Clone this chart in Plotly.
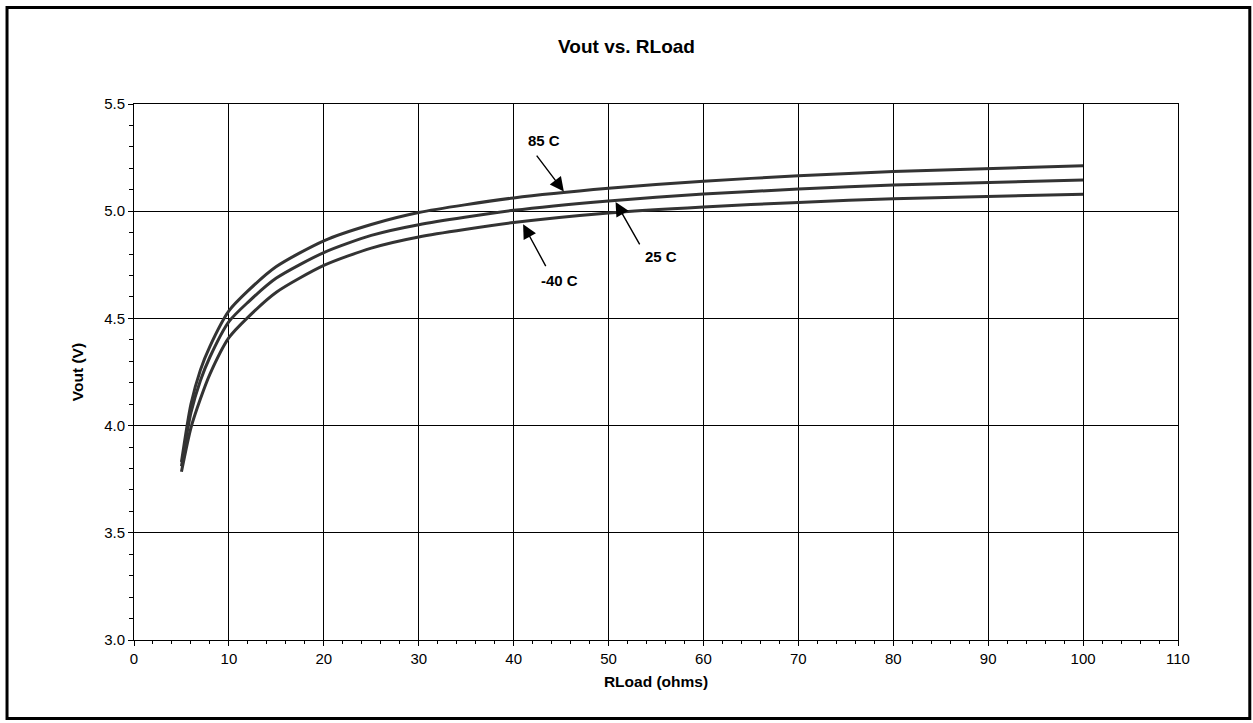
import plotly.graph_objects as go

rload = [5, 6, 7, 8, 10, 12, 15, 20, 25, 30, 40, 50, 60, 70, 80, 100]
v_85c = [3.83, 4.10, 4.26, 4.37, 4.535, 4.628, 4.742, 4.862, 4.938, 4.994, 5.062, 5.107, 5.140, 5.165, 5.185, 5.212]
v_25c = [3.81, 4.06, 4.21, 4.32, 4.485, 4.575, 4.688, 4.807, 4.887, 4.937, 5.004, 5.048, 5.080, 5.103, 5.122, 5.145]
v_m40c = [3.785, 3.99, 4.125, 4.24, 4.41, 4.505, 4.622, 4.747, 4.828, 4.880, 4.947, 4.992, 5.020, 5.041, 5.058, 5.079]
series_names = ["85 C", "25 C", "-40 C"]

FONT = "Liberation Sans, Arial, sans-serif"
LINE = "#333333"

fig = go.Figure()
for name, vals in zip(series_names, [v_85c, v_25c, v_m40c]):
    fig.add_trace(go.Scatter(x=rload, y=vals, mode="lines", name=name,
                             line=dict(color=LINE, width=3, shape="spline", smoothing=0.7),
                             showlegend=False))

axis_common = dict(showline=True, linecolor="black", linewidth=1, mirror=True,
                   showgrid=True, gridcolor="black", gridwidth=1, zeroline=False,
                   ticks="outside", ticklen=5, tickcolor="black",
                   tickfont=dict(family=FONT, size=15, color="black"))

fig.update_xaxes(range=[0, 110], dtick=10, tick0=0,
                 minor=dict(ticks="outside", ticklen=3, dtick=2, tickcolor="black", showgrid=False),
                 title=dict(text="<b>RLoad (ohms)</b>", font=dict(family=FONT, size=15.5, color="black"), standoff=10),
                 **axis_common)
fig.update_yaxes(range=[3.0, 5.5], dtick=0.5, tick0=3.0, tickformat=".1f",
                 minor=dict(ticks="outside", ticklen=4, dtick=0.1, tickcolor="black", showgrid=False),
                 title=dict(text="<b>Vout (V)</b>", font=dict(family=FONT, size=15.5, color="black"), standoff=16),
                 **axis_common)

# arrows (tip at x,y; tail at ax,ay in data coords)
arrows = [
    (45.29, 5.092, 42.31, 5.266),
    (50.74, 5.043, 53.37, 4.838),
    (41.0, 4.939, 43.47, 4.737),
]
for x, y, ax, ay in arrows:
    fig.add_annotation(x=x, y=y, ax=ax, ay=ay, xref="x", yref="y", axref="x", ayref="y",
                       text="", showarrow=True, arrowhead=2, arrowsize=2, arrowwidth=1.4,
                       arrowcolor="black")
labels = [
    ("85 C", 43.18, 5.329),
    ("25 C", 55.48, 4.788),
    ("-40 C", 44.84, 4.679),
]
for t, x, y in labels:
    fig.add_annotation(x=x, y=y, xref="x", yref="y", text="<b>%s</b>" % t, showarrow=False,
                       font=dict(family=FONT, size=15, color="black"))

# outer chart border
fig.add_shape(type="rect", xref="paper", yref="paper",
              x0=(6.5 - 133.5) / 1044.2, x1=(1249.5 - 133.5) / 1044.2,
              y0=(640 - 718.5) / 536, y1=(640 - 7.5) / 536,
              line=dict(color="black", width=3), layer="above")

fig.update_layout(
    width=1253, height=723,
    margin=dict(l=133.5, r=75.3, t=104, b=83),
    paper_bgcolor="white", plot_bgcolor="white",
    title=dict(text="<b>Vout vs. RLoad</b>", x=0.5, xref="container", xanchor="center",
               y=1 - 46 / 723, yref="container", yanchor="middle",
               font=dict(family=FONT, size=19, color="black")),
    font=dict(family=FONT, color="black"),
)

fig.write_html("out.html", config={"displayModeBar": False},
               post_script="document.body.style.margin='0';")
